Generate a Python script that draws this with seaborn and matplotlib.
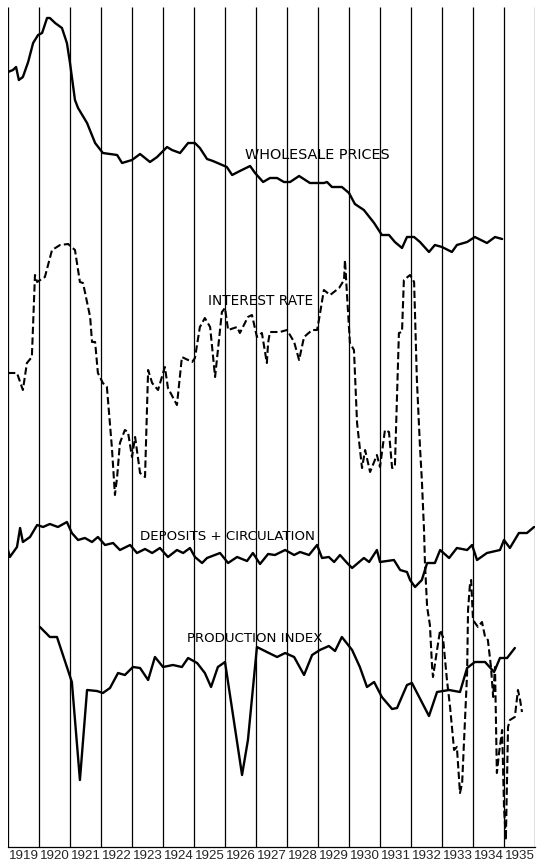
import pandas as pd
import numpy as np
import matplotlib
matplotlib.use('Agg')
import matplotlib.pyplot as plt
import seaborn as sns

# Series (x = year, y = height on a common unitless scale 0-840)
years = list(range(1919, 1937))
year_labels = [str(y) for y in range(1919, 1936)]

wp_x = [1919.00, 1919.16, 1919.26, 1919.35, 1919.48, 1919.65, 1919.81, 1919.97, 1920.10, 1920.26,
        1920.35, 1920.52, 1920.74, 1920.90, 1921.00, 1921.16, 1921.26, 1921.55, 1921.81, 1922.06,
        1922.52, 1922.68, 1923.00, 1923.26, 1923.58, 1923.81, 1924.13, 1924.29, 1924.55, 1924.81,
        1925.03, 1925.19, 1925.42, 1925.61, 1926.06, 1926.23, 1926.48, 1926.81, 1926.97, 1927.23,
        1927.45, 1927.68, 1927.90, 1928.10, 1928.39, 1928.74, 1929.19, 1929.29, 1929.45, 1929.77,
        1930.00, 1930.19, 1930.48, 1930.81, 1931.06, 1931.29, 1931.48, 1931.71, 1931.87, 1932.10,
        1932.29, 1932.58, 1932.77, 1933.00, 1933.32, 1933.48, 1933.81, 1934.06, 1934.45, 1934.71,
        1934.94]
wp_y = [775, 777, 780, 767, 770, 785, 804, 812, 814, 829,
        829, 824, 819, 804, 784, 747, 739, 724, 704, 694,
        692, 684, 687, 693, 685, 690, 700, 697, 694, 704,
        704, 699, 688, 686, 680, 672, 676, 681, 674, 665,
        669, 669, 665, 665, 671, 664, 664, 665, 660, 660,
        654, 643, 637, 624, 612, 612, 605, 599, 610, 610,
        605, 595, 602, 600, 595, 602, 605, 610, 604, 610,
        608]

ir_x = [1919.00, 1919.29, 1919.48, 1919.61, 1919.77, 1919.87, 1919.94, 1920.19, 1920.42, 1920.68,
        1920.94, 1921.16, 1921.32, 1921.42, 1921.65, 1921.71, 1921.81, 1921.90, 1922.06, 1922.19,
        1922.35, 1922.45, 1922.52, 1922.61, 1922.77, 1922.87, 1923.00, 1923.10, 1923.26, 1923.42,
        1923.52, 1923.65, 1923.84, 1924.06, 1924.16, 1924.45, 1924.61, 1924.94, 1925.03, 1925.19,
        1925.35, 1925.52, 1925.68, 1925.90, 1926.00, 1926.10, 1926.39, 1926.48, 1926.74, 1926.87,
        1927.03, 1927.19, 1927.35, 1927.39, 1927.45, 1927.77, 1928.00, 1928.23, 1928.39, 1928.55,
        1928.81, 1928.97, 1929.03, 1929.19, 1929.39, 1929.68, 1929.84, 1929.87, 1929.94, 1930.03,
        1930.16, 1930.26, 1930.42, 1930.52, 1930.68, 1930.90, 1931.00, 1931.16, 1931.29, 1931.39,
        1931.48, 1931.61, 1931.71, 1931.77, 1931.97, 1932.10, 1932.19, 1932.29, 1932.35, 1932.42,
        1932.45, 1932.52, 1932.61, 1932.68, 1932.71, 1932.84, 1932.94, 1933.03, 1933.16, 1933.26,
        1933.39, 1933.48, 1933.58, 1933.65, 1933.81, 1933.84, 1933.90, 1933.94, 1934.00, 1934.16,
        1934.29, 1934.39, 1934.48, 1934.58, 1934.65, 1934.71, 1934.77, 1934.84, 1934.94, 1935.00,
        1935.06, 1935.13, 1935.19, 1935.35, 1935.45, 1935.52, 1935.58]
ir_y = [474, 474, 457, 484, 490, 572, 565, 570, 597, 602,
        603, 597, 565, 564, 530, 505, 505, 474, 464, 460,
        400, 352, 370, 404, 417, 415, 390, 410, 374, 370,
        477, 464, 457, 480, 459, 442, 490, 485, 489, 520,
        529, 520, 470, 535, 539, 517, 520, 514, 530, 532,
        510, 514, 484, 504, 515, 515, 517, 505, 487, 510,
        517, 517, 527, 557, 552, 559, 567, 587, 550, 504,
        497, 424, 379, 397, 375, 392, 380, 417, 415, 379,
        380, 514, 515, 567, 572, 565, 467, 400, 367, 317,
        284, 240, 222, 180, 170, 197, 217, 210, 167, 140,
        97, 100, 54, 64, 174, 237, 262, 267, 227, 220,
        225, 210, 207, 180, 150, 180, 74, 94, 117, 40,
        7, 120, 127, 130, 157, 147, 135]

dc_x = [1919.00, 1919.06, 1919.29, 1919.39, 1919.48, 1919.71, 1919.94, 1920.13, 1920.35, 1920.61,
        1920.90, 1921.06, 1921.26, 1921.48, 1921.71, 1921.90, 1922.13, 1922.39, 1922.61, 1922.94,
        1923.16, 1923.42, 1923.65, 1923.90, 1924.16, 1924.45, 1924.65, 1924.87, 1925.03, 1925.26,
        1925.42, 1925.84, 1926.10, 1926.39, 1926.71, 1926.90, 1927.13, 1927.39, 1927.61, 1927.94,
        1928.23, 1928.42, 1928.71, 1928.97, 1929.13, 1929.35, 1929.52, 1929.71, 1929.94, 1930.10,
        1930.48, 1930.65, 1930.90, 1931.00, 1931.45, 1931.65, 1931.87, 1931.97, 1932.13, 1932.35,
        1932.52, 1932.77, 1932.94, 1933.23, 1933.48, 1933.81, 1933.97, 1934.13, 1934.45, 1934.87,
        1935.00, 1935.19, 1935.48, 1935.74, 1935.97]
dc_y = [297, 290, 300, 319, 305, 310, 322, 320, 323, 320,
        325, 314, 307, 309, 305, 310, 302, 304, 297, 302,
        294, 298, 294, 299, 290, 297, 294, 299, 290, 284,
        289, 294, 284, 290, 286, 294, 283, 293, 292, 297,
        292, 295, 292, 302, 289, 290, 285, 292, 284, 279,
        289, 285, 297, 285, 287, 277, 275, 267, 260, 267,
        284, 284, 297, 289, 299, 297, 302, 287, 294, 297,
        307, 299, 314, 314, 320]

pi_x = [1920.03, 1920.35, 1920.58, 1920.90, 1921.06, 1921.32, 1921.55, 1921.87, 1922.06, 1922.29,
        1922.55, 1922.77, 1923.03, 1923.26, 1923.52, 1923.74, 1924.00, 1924.32, 1924.61, 1924.81,
        1925.10, 1925.35, 1925.55, 1925.77, 1926.00, 1926.55, 1926.74, 1927.03, 1927.35, 1927.68,
        1927.94, 1928.23, 1928.55, 1928.81, 1929.06, 1929.35, 1929.55, 1929.77, 1930.10, 1930.35,
        1930.58, 1930.81, 1931.06, 1931.39, 1931.55, 1931.87, 1932.03, 1932.58, 1932.84, 1933.23,
        1933.58, 1933.81, 1934.06, 1934.39, 1934.68, 1934.87, 1935.10, 1935.35]
pi_y = [220, 210, 210, 180, 165, 67, 157, 156, 154, 159,
        174, 172, 180, 179, 167, 190, 180, 182, 180, 189,
        184, 174, 160, 180, 185, 72, 107, 200, 195, 190,
        194, 190, 172, 192, 197, 201, 196, 210, 197, 180,
        160, 165, 150, 138, 139, 162, 164, 131, 155, 157,
        155, 179, 185, 185, 175, 189, 189, 199]

series = {
    'wholesale': (wp_x, wp_y),
    'interest': (ir_x, ir_y),
    'deposits': (dc_x, dc_y),
    'production': (pi_x, pi_y),
}
df = pd.concat([pd.DataFrame({'year': x, 'value': y, 'series': k}) for k, (x, y) in series.items()])

sns.set_style('white')
plt.rcParams['font.family'] = ['DejaVu Sans']

fig = plt.figure(figsize=(5.37, 8.66), dpi=100)
ax = fig.add_axes([8 / 537, 19 / 866, 527 / 537, 840 / 866])

ax.vlines(years, 0, 840, color='black', lw=0.9, zorder=1)

for name in ['wholesale', 'deposits', 'production']:
    sns.lineplot(data=df[df.series == name], x='year', y='value', ax=ax, color='black',
                 lw=1.7, estimator=None, sort=False, zorder=3)
sns.lineplot(data=df[df.series == 'interest'], x='year', y='value', ax=ax, color='black',
             lw=1.5, estimator=None, sort=False, dashes=False, zorder=3,
             linestyle=(0, (3.5, 1.6)))

txt = dict(color='black', va='center', ha='left', zorder=4)
ax.text(1926.65, 692, 'WHOLESALE PRICES', fontsize=10.4, **txt)
ax.text(1925.45, 546, 'INTEREST RATE', fontsize=9.8, **txt)
ax.text(1923.26, 311, 'DEPOSITS + CIRCULATION', fontsize=9.6, **txt)
ax.text(1924.77, 209, 'PRODUCTION INDEX', fontsize=9.6, **txt)

ax.set_xlim(1919, 1936)
ax.set_ylim(0, 840)
ax.set_xticks([y + 0.5 for y in range(1919, 1936)])
ax.set_xticklabels(year_labels, family=['Liberation Sans', 'DejaVu Sans'], fontsize=9.6)
ax.tick_params(axis='x', length=0, pad=2)
ax.set_yticks([])
ax.set_xlabel('')
ax.set_ylabel('')
for s in ['top', 'left', 'right']:
    ax.spines[s].set_visible(False)
ax.spines['bottom'].set_linewidth(0.9)
ax.spines['bottom'].set_color('black')

fig.savefig('out.png', dpi=100)
